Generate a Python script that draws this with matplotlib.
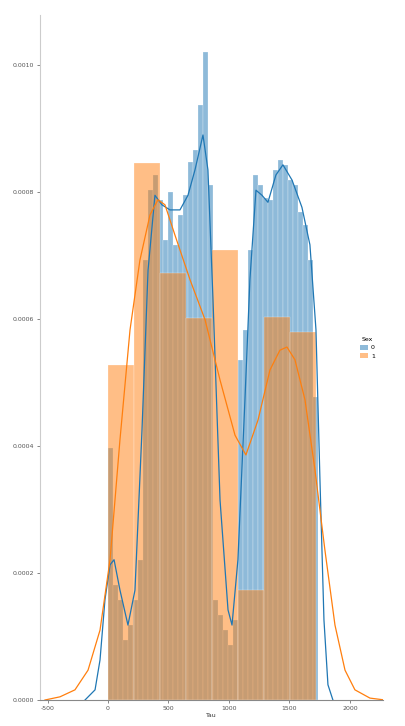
import matplotlib
matplotlib.use("Agg")
import matplotlib.pyplot as plt
import numpy as np
from matplotlib.patches import Patch

# ---- data (density histogram, two groups) ----
blue_start = 0.0
blue_width = 41.3
blue_density = [3.97, 1.81, 1.58, 0.95, 1.18, 1.58, 2.21, 6.93, 8.03, 8.27,
                7.88, 7.25, 8.00, 7.17, 7.64, 7.95, 8.47, 8.66, 9.37, 10.21,
                8.11, 1.58, 1.34, 1.10, 0.87, 1.26, 5.36, 5.83, 7.09, 8.27,
                8.11, 7.91, 7.88, 8.35, 8.51, 8.43, 8.19, 8.11, 7.69, 7.48,
                6.93, 4.77]  # x 1e-4

orange_start = 0.0
orange_width = 215.0
orange_density = [5.28, 8.46, 6.73, 6.02, 7.09, 1.73, 6.03, 5.80]  # x 1e-4

blue_kde_x = [-190, -107, -66, -25, 17, 50, 99, 165, 223, 281, 331, 388, 446, 512,
              595, 661, 719, 785, 826, 868, 926, 992, 1025, 1074, 1132, 1173, 1223,
              1273, 1322, 1388, 1446, 1521, 1603, 1669, 1719, 1752, 1785, 1818, 1859]
blue_kde_y = [0, 0.16, 0.63, 1.58, 2.13, 2.21, 1.73, 1.18, 1.73, 4.25, 6.77, 7.95,
              7.80, 7.72, 7.72, 7.95, 8.35, 8.90, 8.35, 6.30, 3.15, 1.42, 1.18, 2.21,
              4.73, 6.62, 8.03, 7.95, 7.84, 8.27, 8.43, 8.19, 7.76, 7.17, 5.83, 3.46,
              1.26, 0.24, 0]

orange_kde_x = [-521, -397, -273, -165, -66, 17, 99, 182, 264, 347, 413, 471, 554,
                678, 802, 926, 1050, 1140, 1240, 1339, 1421, 1479, 1545, 1628, 1711,
                1793, 1876, 1959, 2041, 2165, 2289]
orange_kde_y = [0, 0.05, 0.16, 0.47, 1.10, 2.21, 4.10, 5.83, 6.93, 7.64, 7.88, 7.80,
                7.32, 6.62, 5.99, 5.04, 4.17, 3.86, 4.41, 5.20, 5.51, 5.56, 5.36, 4.73,
                3.62, 2.36, 1.18, 0.47, 0.16, 0.03, 0]

groups = ["0", "1"]
legend_title = "Sex"
x_label = "Tau"
xticks = [-500, 0, 500, 1000, 1500, 2000]
yticks = [0.0, 0.0002, 0.0004, 0.0006, 0.0008, 0.0010]

BLUE = "#1f77b4"
ORANGE = "#ff7f0e"

fig = plt.figure(figsize=(4.06, 7.26), dpi=100)
ax = fig.add_axes([40/406, 26/726, 343/406, 685/726])

scale = 1e-4
bx = [blue_start + i * blue_width for i in range(len(blue_density))]
ax.bar(bx, [v * scale for v in blue_density], width=blue_width, align="edge",
       color=BLUE, alpha=0.5, edgecolor=(1, 1, 1, 0.5), linewidth=0.35)
ox = [orange_start + i * orange_width for i in range(len(orange_density))]
ax.bar(ox, [v * scale for v in orange_density], width=orange_width, align="edge",
       color=ORANGE, alpha=0.5, edgecolor=(1, 1, 1, 0.5), linewidth=0.35)

ax.plot(blue_kde_x, [v * scale for v in blue_kde_y], color=BLUE, lw=0.9)
ax.plot(orange_kde_x, [v * scale for v in orange_kde_y], color=ORANGE, lw=0.9)

ax.set_xlim(-562, 2273)
ax.set_ylim(0, 0.001079)
ax.set_xticks(xticks)
ax.set_xticklabels([str(t) for t in xticks])
ax.set_yticks(yticks)
ax.set_yticklabels([f"{t:.4f}" for t in yticks])
ax.tick_params(labelsize=4.5, colors="#555555", length=2, width=0.5, pad=2)
ax.set_xlabel(x_label, fontsize=4.5, color="#333333", labelpad=2)
for s in ["top", "right"]:
    ax.spines[s].set_visible(False)
ax.spines["left"].set_color("#cccccc")
ax.spines["bottom"].set_color("#888888")
ax.spines["left"].set_linewidth(0.8)
ax.spines["bottom"].set_linewidth(0.8)

handles = [Patch(facecolor=BLUE, alpha=0.5, label=groups[0]),
           Patch(facecolor=ORANGE, alpha=0.5, label=groups[1])]
fig.legend(handles=handles, title=legend_title, loc="center left",
           bbox_to_anchor=(358/406, 1 - 348/726), frameon=False,
           fontsize=4.5, title_fontsize=4.5, handlelength=1.2, handleheight=0.8,
           labelspacing=0.4, handletextpad=0.5, borderaxespad=0)

fig.savefig("out.png", dpi=100)
